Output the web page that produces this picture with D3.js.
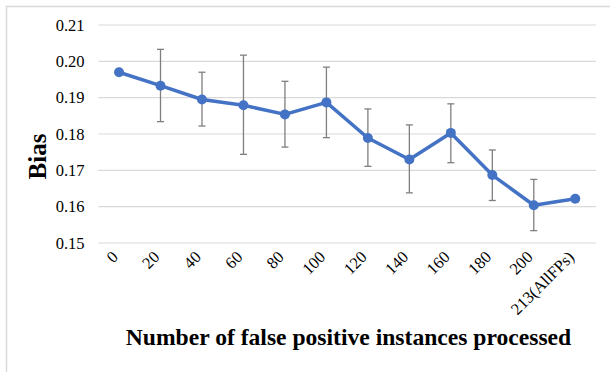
<!DOCTYPE html>
<html>
<head>
<meta charset="utf-8">
<script src="https://cdn.jsdelivr.net/npm/d3@7"></script>
<style>
  html, body { margin: 0; padding: 0; background: #fff; }
  svg { display: block; }
  text { font-family: "Liberation Serif", "Times New Roman", serif; fill: #000; }
</style>
</head>
<body>
<svg id="chart" width="610" height="372"></svg>
<script>
// Bias after processing N false positive instances (mean ± error)
const categories = ["0", "20", "40", "60", "80", "100", "120", "140", "160", "180", "200", "213(AllFPs)"];
const biasValues = [0.1970, 0.1933, 0.1895, 0.1879, 0.1854, 0.1887, 0.1789, 0.1730, 0.1803, 0.1687, 0.1604, 0.1622];
const errUpper   = [null, 0.0100, 0.0075, 0.0138, 0.0091, 0.0097, 0.0080, 0.0095, 0.0080, 0.0069, 0.0071, null];
const errLower   = [null, 0.0099, 0.0073, 0.0135, 0.0090, 0.0097, 0.0078, 0.0092, 0.0082, 0.0070, 0.0070, null];
const yTicks = [0.15, 0.16, 0.17, 0.18, 0.19, 0.20, 0.21];

const svg = d3.select("#chart");

// outer chart frame
svg.append("path")
  .attr("d", "M6.5,372 V6.5 H610")
  .attr("fill", "none")
  .attr("stroke", "#d9d9d9")
  .attr("stroke-width", 1.5);

const x = d3.scaleBand().domain(categories).range([98.3, 596]);
const y = d3.scaleLinear().domain([0.15, 0.21]).range([243, 25]);

// horizontal gridlines
svg.append("g")
  .selectAll("line")
  .data(yTicks)
  .join("line")
  .attr("x1", x.range()[0])
  .attr("x2", x.range()[1])
  .attr("y1", d => y(d))
  .attr("y2", d => y(d))
  .attr("stroke", "#d9d9d9")
  .attr("stroke-width", 1.2);

// y axis tick labels
const yAxis = d3.axisLeft(y).tickValues(yTicks).tickFormat(d3.format(".2f")).tickSize(0).tickPadding(0);
svg.append("g")
  .attr("transform", "translate(84.5,0)")
  .call(yAxis)
  .call(g => g.select(".domain").remove())
  .call(g => g.selectAll("text")
    .attr("font-family", "Liberation Serif, serif")
    .attr("font-size", 16.5)
    .attr("fill", "#000"));

// x axis tick labels, rotated
const xAxis = d3.axisBottom(x).tickSize(0).tickPadding(0);
svg.append("g")
  .attr("transform", "translate(0,243)")
  .call(xAxis)
  .call(g => g.select(".domain").remove())
  .call(g => g.selectAll("text")
    .attr("font-family", "Liberation Serif, serif")
    .attr("font-size", 16.5)
    .attr("fill", "#000")
    .attr("text-anchor", "end")
    .attr("y", 0)
    .attr("dy", 0)
    .attr("transform", "translate(0,15) rotate(-45)"));

const cx = d => x(d) + x.bandwidth() / 2;
const pts = categories.map((c, i) => ({ c, v: biasValues[i], up: errUpper[i], lo: errLower[i] }));

// error bars
const eb = svg.append("g")
  .attr("stroke", "#7f7f7f")
  .attr("stroke-width", 1.3)
  .selectAll("g")
  .data(pts.filter(d => d.up != null))
  .join("g");
eb.append("line")
  .attr("x1", d => cx(d.c)).attr("x2", d => cx(d.c))
  .attr("y1", d => y(d.v + d.up)).attr("y2", d => y(d.v - d.lo));
eb.append("line")
  .attr("x1", d => cx(d.c) - 3.5).attr("x2", d => cx(d.c) + 3.5)
  .attr("y1", d => y(d.v + d.up)).attr("y2", d => y(d.v + d.up));
eb.append("line")
  .attr("x1", d => cx(d.c) - 3.5).attr("x2", d => cx(d.c) + 3.5)
  .attr("y1", d => y(d.v - d.lo)).attr("y2", d => y(d.v - d.lo));

// series line
svg.append("path")
  .datum(pts)
  .attr("fill", "none")
  .attr("stroke", "#4472c4")
  .attr("stroke-width", 3.5)
  .attr("stroke-linejoin", "round")
  .attr("d", d3.line().x(d => cx(d.c)).y(d => y(d.v)));

// markers
svg.append("g")
  .selectAll("circle")
  .data(pts)
  .join("circle")
  .attr("cx", d => cx(d.c))
  .attr("cy", d => y(d.v))
  .attr("r", 5)
  .attr("fill", "#4472c4");

// axis titles
svg.append("text")
  .attr("transform", "translate(46,156.5) rotate(-90)")
  .attr("text-anchor", "middle")
  .attr("font-size", 25)
  .attr("font-weight", "bold")
  .text("Bias");

svg.append("text")
  .attr("x", 348.5)
  .attr("y", 345)
  .attr("text-anchor", "middle")
  .attr("font-size", 23.6)
  .attr("font-weight", "bold")
  .text("Number of false positive instances processed");
</script>
</body>
</html>
